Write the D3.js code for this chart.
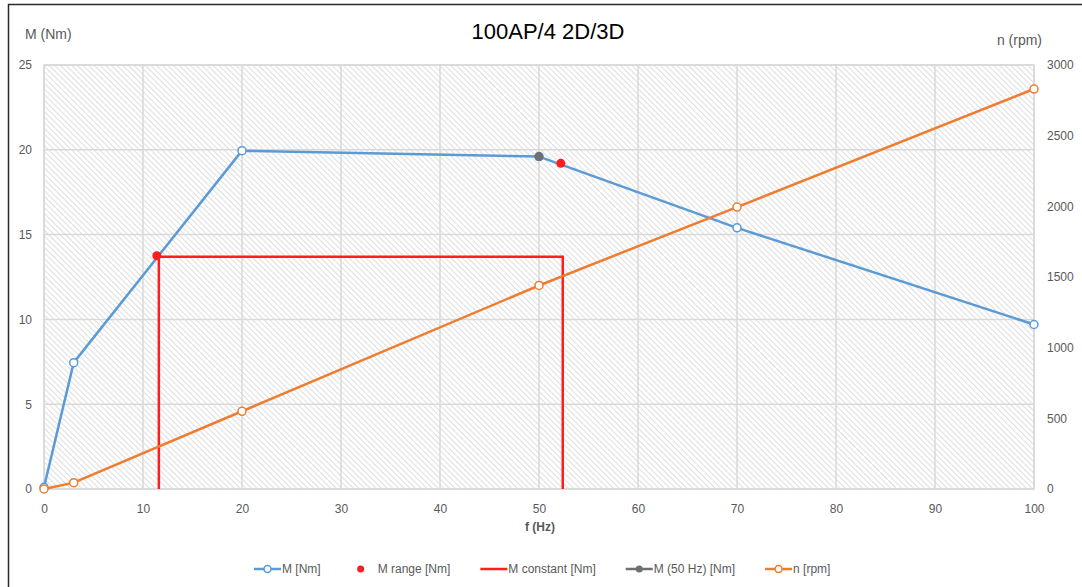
<!DOCTYPE html>
<html>
<head>
<meta charset="utf-8">
<script src="https://cdn.jsdelivr.net/npm/d3@7"></script>
<style>
	body { margin: 0; background: #fff; }
	svg { display: block; font-family: "Liberation Sans", Arial, sans-serif; }
</style>
</head>
<body>
<svg id="chart" width="1082" height="587"></svg>
<script>
// Data
const freq = [0, 3, 20, 50, 70, 100]
const torque = [0.1, 7.45, 19.95, 19.6, 15.4, 9.7]
const speed = [0, 45, 550, 1440, 1995, 2830]
const rangeFreq = [11.4, 52.2]
const rangeTorque = [13.75, 19.2]
const constFreq = [11.6, 11.6, 52.4, 52.4]
const constTorque = [0, 13.7, 13.7, 0]
const nominalFreq = [50]
const nominalTorque = [19.6]
const xTicks = [0, 10, 20, 30, 40, 50, 60, 70, 80, 90, 100]
const yTicks = [0, 5, 10, 15, 20, 25]
const y2Ticks = [0, 500, 1000, 1500, 2000, 2500, 3000]

const blue = "#5b9bd5", orange = "#ed7d31", red = "#ff1d1d", grey = "#6f6f6f"
const textCol = "#595959", gridCol = "#d9d9d9"

const svg = d3.select("#chart")
const plotLeft = 44, plotRight = 1034, plotTop = 65, plotBottom = 489

const x = d3.scaleLinear().domain([0, 100]).range([plotLeft, plotRight])
const y = d3.scaleLinear().domain([0, 25]).range([plotBottom, plotTop])
const y2 = d3.scaleLinear().domain([0, 3000]).range([plotBottom, plotTop])

// chart frame (cropped on the right and bottom in the reference)
svg.append("rect")
	.attr("x", 8.5).attr("y", 4.5)
	.attr("width", 1200).attr("height", 700)
	.attr("fill", "none").attr("stroke", "#2b2b2b").attr("stroke-width", 1.5)

// hatched plot background
let pat = svg.append("defs").append("pattern")
	.attr("id", "hatch")
	.attr("patternUnits", "userSpaceOnUse")
	.attr("width", 4).attr("height", 4)
	.attr("patternTransform", "rotate(-45)")
pat.append("rect").attr("width", 4).attr("height", 4).attr("fill", "#fff")
pat.append("line")
	.attr("x1", 0).attr("y1", 0).attr("x2", 0).attr("y2", 4)
	.attr("stroke", "#d6d6d6").attr("stroke-width", 1.6)

svg.append("rect")
	.attr("x", plotLeft).attr("y", plotTop)
	.attr("width", plotRight - plotLeft).attr("height", plotBottom - plotTop)
	.attr("fill", "url(#hatch)")

// grid
svg.append("g").selectAll("line")
	.data(xTicks)
	.join("line")
	.attr("x1", d => x(d)).attr("x2", d => x(d))
	.attr("y1", plotTop).attr("y2", plotBottom)
	.attr("stroke", gridCol).attr("stroke-width", 1.5)
svg.append("g").selectAll("line")
	.data(yTicks)
	.join("line")
	.attr("x1", plotLeft).attr("x2", plotRight)
	.attr("y1", d => y(d)).attr("y2", d => y(d))
	.attr("stroke", gridCol).attr("stroke-width", 1.5)
svg.append("rect")
	.attr("x", plotLeft).attr("y", plotTop)
	.attr("width", plotRight - plotLeft).attr("height", plotBottom - plotTop)
	.attr("fill", "none").attr("stroke", gridCol).attr("stroke-width", 1.5)

// axes (labels only, Excel style)
let styleAxis = g => {
	g.select(".domain").remove()
	g.selectAll(".tick line").remove()
	g.selectAll(".tick text").attr("fill", textCol)
		.style("font-size", "12px")
		.style("font-family", "Liberation Sans, Arial, sans-serif")
}
svg.append("g")
	.attr("transform", `translate(0,${plotBottom})`)
	.call(d3.axisBottom(x).tickValues(xTicks).tickSize(0).tickPadding(15))
	.call(styleAxis)
svg.append("g")
	.attr("transform", `translate(${plotLeft},0)`)
	.call(d3.axisLeft(y).tickValues(yTicks).tickSize(0).tickPadding(12))
	.call(styleAxis)
svg.append("g")
	.attr("transform", `translate(${plotRight},0)`)
	.call(d3.axisRight(y2).tickValues(y2Ticks).tickFormat(d3.format("d")).tickSize(0).tickPadding(13))
	.call(styleAxis)

// titles
svg.append("text").text("100AP/4 2D/3D")
	.attr("x", 548).attr("y", 39).attr("text-anchor", "middle")
	.style("font-size", "22px").attr("fill", "#000")
svg.append("text").text("M (Nm)")
	.attr("x", 25).attr("y", 39)
	.style("font-size", "14px").attr("fill", textCol)
svg.append("text").text("n (rpm)")
	.attr("x", 1042).attr("y", 45).attr("text-anchor", "end")
	.style("font-size", "14px").attr("fill", textCol)
svg.append("text").text("f (Hz)")
	.attr("x", 540).attr("y", 531).attr("text-anchor", "middle")
	.style("font-size", "12px").style("font-weight", "bold").attr("fill", textCol)

// series
let line = d3.line()
let mPts = freq.map((f, i) => [x(f), y(torque[i])])
let nPts = freq.map((f, i) => [x(f), y2(speed[i])])
let cPts = constFreq.map((f, i) => [x(f), y(constTorque[i])])

svg.append("path").attr("d", line(mPts))
	.attr("fill", "none").attr("stroke", blue).attr("stroke-width", 2.5)
	.attr("stroke-linejoin", "round")
svg.append("g").selectAll("circle")
	.data(mPts).join("circle")
	.attr("cx", d => d[0]).attr("cy", d => d[1]).attr("r", 4)
	.attr("fill", "#fff").attr("stroke", blue).attr("stroke-width", 1.5)

svg.append("g").selectAll("circle")
	.data(rangeFreq.map((f, i) => [x(f), y(rangeTorque[i])]))
	.join("circle")
	.attr("cx", d => d[0]).attr("cy", d => d[1]).attr("r", 4.5)
	.attr("fill", red)

svg.append("path").attr("d", line(cPts))
	.attr("fill", "none").attr("stroke", red).attr("stroke-width", 2.5)

svg.append("g").selectAll("circle")
	.data(nominalFreq.map((f, i) => [x(f), y(nominalTorque[i])]))
	.join("circle")
	.attr("cx", d => d[0]).attr("cy", d => d[1]).attr("r", 4.5)
	.attr("fill", grey)

svg.append("path").attr("d", line(nPts))
	.attr("fill", "none").attr("stroke", orange).attr("stroke-width", 2.5)
	.attr("stroke-linejoin", "round")
svg.append("g").selectAll("circle")
	.data(nPts).join("circle")
	.attr("cx", d => d[0]).attr("cy", d => d[1]).attr("r", 4)
	.attr("fill", "#fff").attr("stroke", orange).attr("stroke-width", 1.5)

// legend
const legendItems = [
	{ label: "M [Nm]", colour: blue, line: true, marker: "open" },
	{ label: "M range [Nm]", colour: red, line: false, marker: "dot" },
	{ label: "M constant [Nm]", colour: red, line: true, marker: null },
	{ label: "M (50 Hz) [Nm]", colour: grey, line: true, marker: "dot" },
	{ label: "n [rpm]", colour: orange, line: true, marker: "open" },
]
let lg = svg.append("g").attr("class", "legend")
let lx = 254, ly = 569
legendItems.forEach(it => {
	let g = lg.append("g").attr("transform", `translate(${lx},${ly})`)
	if (it.line)
		g.append("line").attr("x1", 0).attr("x2", 27).attr("y1", 0).attr("y2", 0)
			.attr("stroke", it.colour).attr("stroke-width", 2.5)
	if (it.marker === "open")
		g.append("circle").attr("cx", 13.5).attr("r", 3.5)
			.attr("fill", "#fff").attr("stroke", it.colour).attr("stroke-width", 1.5)
	else if (it.marker === "dot")
		g.append("circle").attr("cx", it.line ? 13.5 : 10).attr("r", 3.5).attr("fill", it.colour)
	let t = g.append("text").text(it.label)
		.attr("x", it.line ? 28 : 27).attr("y", 4)
		.style("font-size", "12px").attr("fill", textCol)
	lx += (it.line ? 28 : 27) + t.node().getComputedTextLength() + 30
})
</script>
</body>
</html>
